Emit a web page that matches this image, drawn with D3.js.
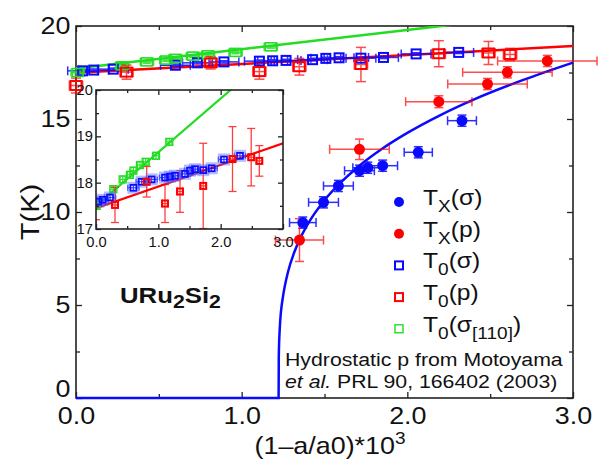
<!DOCTYPE html>
<html><head><meta charset="utf-8">
<script src="https://cdn.jsdelivr.net/npm/d3@7"></script>
<style>
body{margin:0;background:#fff}
text{font-family:"Liberation Sans",Arial,Helvetica,sans-serif;fill:#111}
</style>
</head><body>
<svg id="c" width="608" height="464"></svg>
<script>
// ---------- data ----------
// T_X(sigma): blue filled circles
const txSigmaX    = [1.369, 1.494, 1.584, 1.711, 1.761, 1.851, 2.066, 2.330];
const txSigmaT    = [9.43, 10.52, 11.40, 12.22, 12.38, 12.49, 13.21, 14.91];
const txSigmaXErr = [0.08, 0.09, 0.09, 0.09, 0.09, 0.09, 0.085, 0.087];
const txSigmaTErr = [0.3, 0.3, 0.3, 0.3, 0.3, 0.3, 0.3, 0.3];
// T_X(p): red filled circles
const txPressX    = [1.349, 1.711, 2.190, 2.484, 2.604, 2.845];
const txPressT    = [8.49, 13.37, 15.93, 16.88, 17.51, 18.12];
const txPressXErr = [0.145, 0.18, 0.20, 0.24, 0.27, 0.30];
const txPressTErr = [1.15, 0.55, 0.32, 0.30, 0.30, 0.30];
// T_0(sigma): blue open squares
const t0SigmaX    = [0.04, 0.107, 0.225, 0.60, 0.733, 0.893, 1.107, 1.187, 1.268, 1.428, 1.508, 1.588, 1.72, 1.856, 2.053, 2.31];
const t0SigmaT    = [17.59, 17.63, 17.68, 17.89, 18.02, 18.07, 18.11, 18.13, 18.15, 18.19, 18.26, 18.29, 18.27, 18.31, 18.50, 18.58];
const t0SigmaXErr = [0.09, 0.09, 0.09, 0.09, 0.09, 0.09, 0.09, 0.09, 0.09, 0.09, 0.09, 0.09, 0.09, 0.09, 0.09, 0.09];
const t0SigmaTErr = [0.06, 0.06, 0.06, 0.06, 0.06, 0.06, 0.06, 0.06, 0.06, 0.06, 0.06, 0.06, 0.06, 0.06, 0.06, 0.06];
// T_0(p): red open squares
const t0PressX    = [0.0, 0.305, 0.813, 1.107, 1.348, 1.72, 2.19, 2.49, 2.62];
const t0PressT    = [16.8, 17.52, 18.02, 17.55, 17.81, 17.93, 18.51, 18.55, 18.47];
const t0PressXErr = [0.04, 0.04, 0.04, 0.04, 0.04, 0.04, 0.04, 0.04, 0.04];
const t0PressTErr = [0.40, 0.38, 0.33, 0.41, 0.45, 0.92, 0.70, 0.62, 0.33];
// T_0(sigma[110]): green open squares
const t0S110X     = [0.01, 0.278, 0.428, 0.545, 0.60, 0.706, 0.797, 0.963, 1.176];
const t0S110T     = [17.50, 17.86, 18.07, 18.17, 18.26, 18.38, 18.45, 18.58, 18.88];
const t0S110XErr  = [0.04, 0.04, 0.04, 0.04, 0.04, 0.04, 0.04, 0.04, 0.04];
const t0S110TErr  = [0.07, 0.07, 0.07, 0.07, 0.07, 0.07, 0.07, 0.07, 0.07];
// fit lines
const txFitX = [0, 1.223, 1.224, 1.225, 1.23, 1.25, 1.26, 1.28, 1.32, 1.35, 1.40, 1.50, 1.60, 1.70, 1.85, 2.00, 2.20, 2.40, 2.70, 3.00];
const txFitT = [0, 0, 2.15, 2.62, 3.74, 5.49, 6.00, 6.79, 7.89, 8.52, 9.36, 10.63, 11.60, 12.41, 13.41, 14.25, 15.21, 16.04, 17.10, 18.03];
const redFitMainX = [0, 3];   const redFitMainT = [17.48, 18.92];
const greenFitMainX = [0, 2.4]; const greenFitMainT = [17.72, 20.2];
const redFitInsetX = [0, 3];  const redFitInsetT = [17.45, 18.85];
const greenFitInsetX = [0, 2.4]; const greenFitInsetT = [17.5, 20.28];
// ticks
const mainXTicks = [0, 1, 2, 3];      const mainXMinor = [0.5, 1.5, 2.5];
const mainYTicks = [0, 5, 10, 15, 20]; const mainYMinor = [2.5, 7.5, 12.5, 17.5];
const insetXTicks = [0, 1, 2, 3];     const insetXMinor = [0.5, 1.5, 2.5];
const insetYTicks = [17, 18, 19, 20]; const insetYMinor = [17.5, 18.5, 19.5];

// ---------- styles ----------
const BLUE = "#0a0aff", RED = "#ff0000", GREEN = "#22dd22";
const SX = 1.12; // horizontal text stretch seen in reference

const svg = d3.select("#c");

// ---------- main scales ----------
const x = d3.scaleLinear().domain([0, 3]).range([76, 573]);
const y = d3.scaleLinear().domain([0, 20]).range([398, 26]);

const defs = svg.append("defs");
defs.append("clipPath").attr("id", "clipMain").append("rect")
  .attr("x", x(0)).attr("y", y(20)).attr("width", x(3) - x(0)).attr("height", y(0) - y(20));

function axes(g, xs, ys, xt, xm, yt, ym, major, minor, fs, fmtX, fmtY, padX, padY) {
  const [x0, x1] = xs.range(); const [y0, y1] = ys.range();
  const ax = g.append("g");
  const mk = (axis, tr) => ax.append("g").attr("transform", tr).call(axis);
  mk(d3.axisBottom(xs).tickValues(xt).tickSizeInner(-major).tickSizeOuter(0).tickPadding(padX).tickFormat(fmtX), `translate(0,${y0})`);
  mk(d3.axisBottom(xs).tickValues(xm).tickSizeInner(-minor).tickSizeOuter(0).tickFormat(""), `translate(0,${y0})`);
  mk(d3.axisTop(xs).tickValues(xt).tickSizeInner(-major).tickSizeOuter(0).tickFormat(""), `translate(0,${y1})`);
  mk(d3.axisTop(xs).tickValues(xm).tickSizeInner(-minor).tickSizeOuter(0).tickFormat(""), `translate(0,${y1})`);
  const l = mk(d3.axisLeft(ys).tickValues(yt).tickSizeInner(-major).tickSizeOuter(0).tickPadding(padY).tickFormat(fmtY), `translate(${x0},0)`);
  l.attr("class", "yleft");
  mk(d3.axisLeft(ys).tickValues(ym).tickSizeInner(-minor).tickSizeOuter(0).tickFormat(""), `translate(${x0},0)`);
  mk(d3.axisRight(ys).tickValues(yt).tickSizeInner(-major).tickSizeOuter(0).tickFormat(""), `translate(${x1},0)`);
  mk(d3.axisRight(ys).tickValues(ym).tickSizeInner(-minor).tickSizeOuter(0).tickFormat(""), `translate(${x1},0)`);
  ax.selectAll(".domain").remove();
  ax.selectAll("line").attr("stroke", "#222").attr("stroke-width", 1.3);
  ax.selectAll("text").attr("font-size", fs).attr("fill", "#111")
    .attr("font-family", '"Liberation Sans",Arial,sans-serif').attr("transform", `scale(${SX},1)`);
  g.append("rect").attr("x", x0).attr("y", y1).attr("width", x1 - x0).attr("height", y0 - y1)
    .attr("fill", "none").attr("stroke", "#222").attr("stroke-width", 1.6);
  return ax;
}

function fitLine(g, xs, ys, X, T, color, w, clip, curve) {
  const line = d3.line().x(i => xs(X[i])).y(i => ys(T[i])).curve(curve || d3.curveLinear);
  g.append("path").attr("d", line(d3.range(X.length))).attr("fill", "none")
    .attr("stroke", color).attr("stroke-width", w).attr("clip-path", clip);
}

function errBars(g, xs, ys, X, T, XE, TE, color, cap, w, op) {
  const eg = g.append("g").attr("stroke", color).attr("stroke-width", w).attr("opacity", op);
  X.forEach((v, i) => {
    const cx = xs(v), cy = ys(T[i]);
    const xl = xs(v - XE[i]), xr = xs(v + XE[i]);
    const yt = ys(T[i] + TE[i]), yb = ys(T[i] - TE[i]);
    eg.append("line").attr("x1", xl).attr("x2", xr).attr("y1", cy).attr("y2", cy);
    eg.append("line").attr("x1", xl).attr("x2", xl).attr("y1", cy - cap / 2).attr("y2", cy + cap / 2);
    eg.append("line").attr("x1", xr).attr("x2", xr).attr("y1", cy - cap / 2).attr("y2", cy + cap / 2);
    eg.append("line").attr("x1", cx).attr("x2", cx).attr("y1", yt).attr("y2", yb);
    eg.append("line").attr("x1", cx - cap / 2).attr("x2", cx + cap / 2).attr("y1", yt).attr("y2", yt);
    eg.append("line").attr("x1", cx - cap / 2).attr("x2", cx + cap / 2).attr("y1", yb).attr("y2", yb);
  });
}
function circles(g, xs, ys, X, T, color, r) {
  g.append("g").selectAll("circle").data(d3.range(X.length)).join("circle")
    .attr("cx", i => xs(X[i])).attr("cy", i => ys(T[i])).attr("r", r).attr("fill", color);
}
function squares(g, xs, ys, X, T, color, w, h, sw, halo) {
  const sg = g.append("g");
  if (halo) {
    sg.selectAll("rect.h").data(d3.range(X.length)).join("rect").attr("class", "h")
      .attr("x", i => xs(X[i]) - w / 2 - 1).attr("y", i => ys(T[i]) - h / 2 - 1)
      .attr("width", w + 2).attr("height", h + 2)
      .attr("fill", "none").attr("stroke", halo).attr("stroke-width", sw + 2.5);
  }
  sg.selectAll("rect.s").data(d3.range(X.length)).join("rect").attr("class", "s")
    .attr("x", i => xs(X[i]) - w / 2).attr("y", i => ys(T[i]) - h / 2)
    .attr("width", w).attr("height", h)
    .attr("fill", "none").attr("stroke", color).attr("stroke-width", sw);
}

// ---------- main plot ----------
const main = svg.append("g");
const mainAx = axes(main, x, y, mainXTicks, mainXMinor, mainYTicks, mainYMinor, 6, 4, 24,
  d3.format(".1f"), d3.format("d"), 9, 5);
// the "0" on the y axis sits just above the corner, as in the reference
mainAx.select(".yleft").selectAll(".tick").filter(d => d === 0).select("text").attr("dy", "-0.05em");

// fit lines
fitLine(main, x, y, redFitMainX, redFitMainT, RED, 2.5, "url(#clipMain)");
fitLine(main, x, y, greenFitMainX, greenFitMainT, GREEN, 2.5, "url(#clipMain)");
fitLine(main, x, y, txFitX, txFitT, BLUE, 2.5, null, d3.curveMonotoneX);

// error bars
errBars(main, x, y, t0SigmaX, t0SigmaT, t0SigmaXErr, t0SigmaTErr, BLUE, 9, 1.5, 0.85);
errBars(main, x, y, t0S110X, t0S110T, t0S110XErr, t0S110TErr, GREEN, 8, 1.5, 0.85);
errBars(main, x, y, t0PressX, t0PressT, t0PressXErr, t0PressTErr, RED, 10, 1.5, 0.7);
errBars(main, x, y, txSigmaX, txSigmaT, txSigmaXErr, txSigmaTErr, BLUE, 9, 1.5, 0.85);
errBars(main, x, y, txPressX, txPressT, txPressXErr, txPressTErr, RED, 9, 1.5, 0.7);
// markers
squares(main, x, y, t0SigmaX, t0SigmaT, BLUE, 9, 9, 2);
squares(main, x, y, t0S110X, t0S110T, GREEN, 11, 8, 1.6);
squares(main, x, y, t0PressX, t0PressT, RED, 11, 9, 2);
circles(main, x, y, txSigmaX, txSigmaT, BLUE, 5.5);
circles(main, x, y, txPressX, txPressT, RED, 5.5);

// axis titles
svg.append("text").attr("transform", `translate(330,454) scale(${SX},1)`)
  .attr("text-anchor", "middle").attr("font-size", 24)
  .call(t => { t.append("tspan").text("(1\u2013a/a0)*10");
               t.append("tspan").attr("font-size", 17).attr("dy", -10).text("3"); });
svg.append("text").attr("transform", `translate(39,212) rotate(-90) scale(${SX},1)`)
  .attr("text-anchor", "middle").attr("font-size", 26).text("T(K)");

// compound label
svg.append("text").attr("transform", `translate(120,303) scale(${SX},1)`)
  .attr("font-size", 23).attr("font-weight", "bold")
  .call(t => {
    t.append("tspan").text("URu");
    t.append("tspan").attr("font-size", 19).attr("dy", 5).text("2");
    t.append("tspan").attr("dy", -5).text("Si");
    t.append("tspan").attr("font-size", 19).attr("dy", 5).text("2");
  });

// legend
const legendRows = [
  { kind: "circle", color: BLUE, parts: [["T", 0], ["X", 1], ["(\u03c3)", 0]] },
  { kind: "circle", color: RED, parts: [["T", 0], ["X", 1], ["(p)", 0]] },
  { kind: "square", color: BLUE, parts: [["T", 0], ["0", 1], ["(\u03c3)", 0]] },
  { kind: "square", color: RED, parts: [["T", 0], ["0", 1], ["(p)", 0]] },
  { kind: "square", color: GREEN, parts: [["T", 0], ["0", 1], ["(\u03c3", 0], ["[110]", 1], [")", 0]] }
];
const lg = svg.append("g");
legendRows.forEach((r, i) => {
  const by = 205 + i * 31.7;
  if (r.kind === "circle") lg.append("circle").attr("cx", 399).attr("cy", by - 3).attr("r", 5).attr("fill", r.color);
  else lg.append("rect").attr("x", 395).attr("y", by - 7).attr("width", 8).attr("height", 8)
    .attr("fill", "none").attr("stroke", r.color).attr("stroke-width", r.color === GREEN ? 1.4 : 2);
  const t = lg.append("text").attr("transform", `translate(423,${by}) scale(${SX},1)`).attr("font-size", 22);
  let cur = 0;
  r.parts.forEach(([s, sub]) => {
    const shift = sub ? 7 : 0;
    t.append("tspan").attr("font-size", sub ? 17 : 22).attr("dy", shift - cur).text(s);
    cur = shift;
  });
});
svg.append("text").attr("transform", `translate(285,365.5) scale(1.12,1)`).attr("font-size", 19)
  .text("Hydrostatic p from Motoyama");
svg.append("text").attr("transform", `translate(285,387.5) scale(1.12,1)`).attr("font-size", 19)
  .call(t => { t.append("tspan").attr("font-style", "italic").text("et al.");
               t.append("tspan").text(" PRL 90, 166402 (2003)"); });

// ---------- inset ----------
const xi = d3.scaleLinear().domain([0, 3]).range([96, 283]);
const yi = d3.scaleLinear().domain([17, 20]).range([229, 90]);
defs.append("clipPath").attr("id", "clipInset").append("rect")
  .attr("x", xi(0)).attr("y", yi(20)).attr("width", xi(3) - xi(0)).attr("height", yi(17) - yi(20));
const inset = svg.append("g");
inset.append("rect").attr("x", xi(0)).attr("y", yi(20)).attr("width", xi(3) - xi(0))
  .attr("height", yi(17) - yi(20)).attr("fill", "#fff");
const inner = inset.append("g").attr("clip-path", "url(#clipInset)");
fitLine(inner, xi, yi, greenFitInsetX, greenFitInsetT, GREEN, 2.2, null);
fitLine(inner, xi, yi, redFitInsetX, redFitInsetT, RED, 2.2, null);
errBars(inner, xi, yi, t0SigmaX, t0SigmaT, t0SigmaXErr, t0SigmaTErr, BLUE, 6, 1.2, 0.8);
errBars(inner, xi, yi, t0S110X, t0S110T, t0S110XErr, t0S110TErr, GREEN, 6, 1.2, 0.9);
errBars(inner, xi, yi, t0PressX, t0PressT, t0PressXErr, t0PressTErr, RED, 8, 1.3, 0.75);
squares(inner, xi, yi, t0S110X, t0S110T, GREEN, 7, 7, 1.3);
squares(inner, xi, yi, t0SigmaX, t0SigmaT, BLUE, 6, 6, 1.6, "rgba(90,110,255,0.45)");
squares(inner, xi, yi, t0PressX, t0PressT, RED, 6, 6, 2);
axes(inset, xi, yi, insetXTicks, insetXMinor, insetYTicks, insetYMinor, 5, 3, 14,
  d3.format(".1f"), d3.format("d"), 8, 3);
inset.selectAll("text").attr("transform", "scale(1.05,1)");
</script>
</body></html>
